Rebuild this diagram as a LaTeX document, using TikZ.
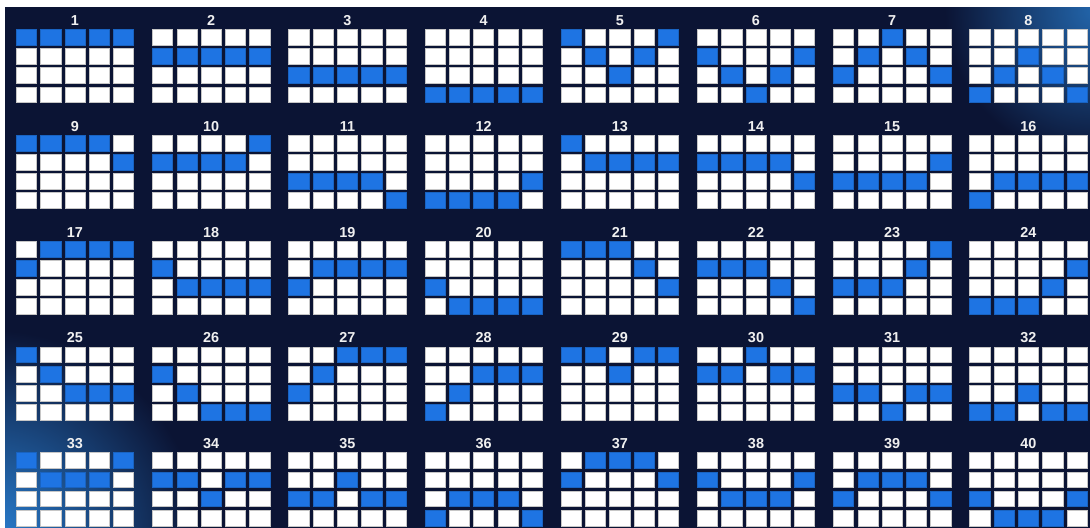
\documentclass[tikz,border=0pt]{standalone}
\usepackage{fontspec}
\setmainfont{Liberation Sans}
\usepackage{xcolor}
\usepackage{tikz}
\usetikzlibrary{positioning}

\definecolor{bgnavy}{HTML}{0B1434}
\definecolor{glowblue}{HTML}{2A80D2}
\definecolor{lineblue}{HTML}{1E74E3}

\begin{document}
\begin{tikzpicture}[
    x=0.02cm, y=-0.02cm,
    cell/.style={rectangle, draw=gray!45, line width=0.3pt, fill=white, minimum width=0.404cm, minimum height=0.316cm, inner sep=0pt, outer sep=0pt},
    hit/.style={cell, draw=lineblue!85!black, fill=lineblue},
    linenum/.style={inner sep=0pt, text=white!88!gray, font=\bfseries\fontsize{8.2}{9}\selectfont}
]

\useasboundingbox (0,0) rectangle (1090,528);

% background
\fill[bgnavy] (5,7) rectangle (1090,528);
\begin{scope}
    \clip (5,7) rectangle (1090,528);
    \shade[inner color=glowblue, outer color=bgnavy] (-10,540) circle (210);
    \shade[inner color=glowblue!75!bgnavy, outer color=bgnavy] (1095,10) circle (150);
\end{scope}

% paylines: column index -> highlighted row
\foreach \n/\pat in {
    1/{1,1,1,1,1}, 2/{2,2,2,2,2}, 3/{3,3,3,3,3}, 4/{4,4,4,4,4},
    5/{1,2,3,2,1}, 6/{2,3,4,3,2}, 7/{3,2,1,2,3}, 8/{4,3,2,3,4},
    9/{1,1,1,1,2}, 10/{2,2,2,2,1}, 11/{3,3,3,3,4}, 12/{4,4,4,4,3},
    13/{1,2,2,2,2}, 14/{2,2,2,2,3}, 15/{3,3,3,3,2}, 16/{4,3,3,3,3},
    17/{2,1,1,1,1}, 18/{2,3,3,3,3}, 19/{3,2,2,2,2}, 20/{3,4,4,4,4},
    21/{1,1,1,2,3}, 22/{2,2,2,3,4}, 23/{3,3,3,2,1}, 24/{4,4,4,3,2},
    25/{1,2,3,3,3}, 26/{2,3,4,4,4}, 27/{3,2,1,1,1}, 28/{4,3,2,2,2},
    29/{1,1,2,1,1}, 30/{2,2,1,2,2}, 31/{3,3,4,3,3}, 32/{4,4,3,4,4},
    33/{1,2,2,2,1}, 34/{2,2,3,2,2}, 35/{3,3,2,3,3}, 36/{4,3,3,3,4},
    37/{2,1,1,1,2}, 38/{2,3,3,3,2}, 39/{3,2,2,2,3}, 40/{3,4,4,4,3}}{
    \pgfmathtruncatemacro{\gc}{mod(\n-1,8)}
    \pgfmathtruncatemacro{\gr}{(\n-1)/8}
    \begin{scope}[shift={(16.3+136.2*\gc, 29.5+105.8*\gr)}]
        \node[linenum] (num\n) at (58.7,-9) {\n};
        \foreach \c in {1,...,5}
            \foreach \r in {1,...,4}
                \node[cell] (cell\n-\c-\r) at ({10.1+24.3*(\c-1)}, {7.9+19.1*(\r-1)}) {};
        \foreach \r [count=\c] in \pat
            \node[hit] (hit\n-\c) at (cell\n-\c-\r) {};
    \end{scope}
}

\end{tikzpicture}
\end{document}
